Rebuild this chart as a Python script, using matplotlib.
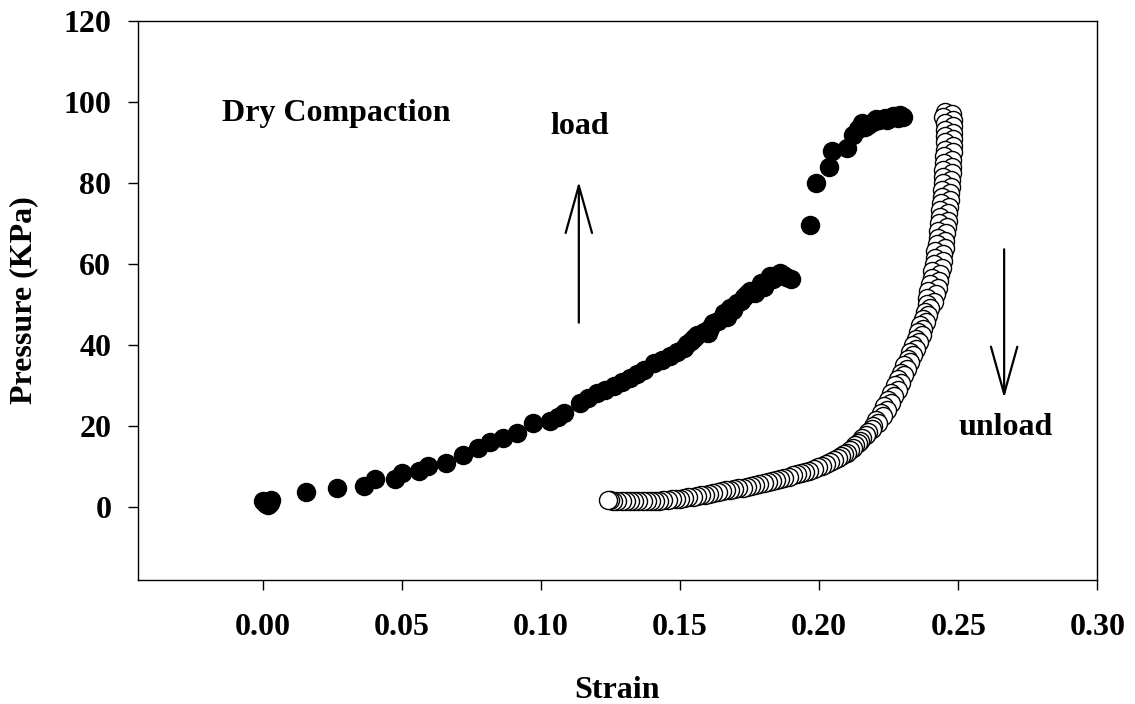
import numpy as np
import matplotlib
matplotlib.use('Agg')
import matplotlib.pyplot as plt

plt.rcParams['font.family'] = ['Liberation Serif', 'DejaVu Serif']
plt.rcParams['font.weight'] = 'bold'

# ── data ────────────────────────────────────────────────────────────────────
# loading branch (filled circles)
load_strain = [0.0000, 0.0010, 0.0020, 0.0025, 0.0030, 0.0155, 0.0266, 0.0364,
               0.0403, 0.0475, 0.0500, 0.0560, 0.0595, 0.0658, 0.0719, 0.0774,
               0.0817, 0.0865, 0.0913, 0.0973, 0.1033, 0.1060, 0.1081, 0.1141,
               0.1170, 0.1201, 0.1230, 0.1261, 0.1290, 0.1321, 0.1345, 0.1369,
               0.1405, 0.1435, 0.1465, 0.1490, 0.1513, 0.1540, 0.1561, 0.1585,
               0.1609, 0.1635, 0.1657, 0.1680, 0.1705, 0.1730, 0.1753, 0.1780,
               0.1801, 0.1825, 0.1845, 0.1861, 0.1880, 0.1897, 0.1966, 0.1987,
               0.2037, 0.2047, 0.2101, 0.2120, 0.2155, 0.2175, 0.2195, 0.2215,
               0.2235, 0.2255, 0.2275, 0.2290, 0.2300,
               0.1525, 0.1550, 0.1600, 0.1620, 0.1670, 0.1690, 0.1720, 0.1740,
               0.1770, 0.1790, 0.1812, 0.1835, 0.1870, 0.2140, 0.2165, 0.2205,
               0.2245, 0.2265, 0.2283]
load_pressure = [1.5, 0.8, 0.6, 1.0, 1.8, 3.7, 4.6, 5.3,
                 7.0, 7.0, 8.5, 8.8, 10.1, 10.9, 12.8, 14.5,
                 16.0, 17.1, 18.3, 20.8, 21.2, 22.3, 23.2, 25.7,
                 26.8, 28.2, 29.0, 29.8, 30.8, 31.9, 32.8, 33.9,
                 35.6, 36.3, 37.2, 38.2, 39.3, 41.0, 42.5, 43.3,
                 44.2, 46.0, 47.9, 49.2, 50.3, 51.8, 53.2, 53.8,
                 54.4, 56.9, 57.0, 57.7, 56.8, 56.3, 69.6, 80.0,
                 83.8, 87.9, 88.5, 91.8, 94.7, 94.2, 95.0, 95.4,
                 95.9, 96.1, 96.4, 96.7, 96.2,
                 40.2, 41.6, 43.0, 45.4, 47.0, 48.5, 50.8, 52.6,
                 52.9, 55.2, 55.8, 56.2, 57.2, 93.2, 93.8, 95.7,
                 95.6, 96.6, 96.0]

# unloading branch (open circles), listed from the top down
unload_strain = [0.2452, 0.2476, 0.2446, 0.2480, 0.2452, 0.2481, 0.2451, 0.2482,
                 0.2453, 0.2481, 0.2452, 0.2482, 0.2451, 0.2480, 0.2449, 0.2479,
                 0.2448, 0.2478, 0.2447, 0.2476, 0.2446, 0.2475, 0.2444, 0.2474,
                 0.2443, 0.2471, 0.2441, 0.2469, 0.2439, 0.2467, 0.2436, 0.2464,
                 0.2434, 0.2462, 0.2431, 0.2460, 0.2428, 0.2456, 0.2426, 0.2453,
                 0.2422, 0.2451, 0.2418, 0.2447, 0.2416, 0.2444, 0.2412, 0.2441,
                 0.2407, 0.2436, 0.2404, 0.2431, 0.2398, 0.2426, 0.2391, 0.2419,
                 0.2389, 0.2414,
                 0.2387, 0.2398, 0.2380, 0.2392, 0.2373, 0.2385, 0.2364, 0.2375,
                 0.2356, 0.2368, 0.2348, 0.2360, 0.2338, 0.2348, 0.2328, 0.2338,
                 0.2318, 0.2328, 0.2306, 0.2316, 0.2294, 0.2304, 0.2284, 0.2294,
                 0.2272, 0.2282, 0.2260, 0.2270, 0.2248, 0.2258, 0.2234, 0.2243,
                 0.2222, 0.2228, 0.2205, 0.2212, 0.2192, 0.2190, 0.2175, 0.2170,
                 0.2155, 0.2148, 0.2138, 0.2130, 0.2120, 0.2110, 0.2100,
                 0.2090, 0.2078, 0.2066, 0.2052, 0.2038, 0.2024, 0.2010, 0.1995,
                 0.1980, 0.1965, 0.1950, 0.1935, 0.1920, 0.1905, 0.1890, 0.1875,
                 0.1860, 0.1845, 0.1830, 0.1815, 0.1800, 0.1785, 0.1770, 0.1755,
                 0.1740, 0.1725, 0.1710, 0.1695, 0.1680, 0.1665, 0.1650, 0.1635,
                 0.1620, 0.1605, 0.1590, 0.1575, 0.1560, 0.1545, 0.1530, 0.1515,
                 0.1500, 0.1485, 0.1470, 0.1455, 0.1440, 0.1425, 0.1410, 0.1395,
                 0.1380, 0.1365, 0.1350, 0.1335, 0.1320, 0.1305, 0.1290, 0.1275,
                 0.1260, 0.1248, 0.1242]
unload_pressure = [97.5, 97.0, 96.2, 95.5, 94.7, 94.0, 93.0, 92.3,
                   91.5, 90.7, 90.0, 89.2, 88.2, 87.5, 86.5, 85.7,
                   85.0, 84.0, 83.2, 82.5, 81.5, 80.7, 80.0, 79.0,
                   78.2, 77.5, 76.5, 75.7, 75.0, 74.0, 73.2, 72.5,
                   71.5, 70.7, 70.0, 69.0, 68.2, 67.5, 66.5, 65.7,
                   65.0, 64.0, 63.2, 62.5, 61.5, 60.7, 60.0, 59.0,
                   58.2, 57.5, 56.5, 55.7, 55.0, 54.0, 53.2, 52.5,
                   51.5, 50.7,
                   50.0, 49.0, 48.2, 47.5, 46.5, 45.7, 45.0, 44.0,
                   43.2, 42.5, 41.5, 40.7, 40.0, 39.0, 38.2, 37.5,
                   36.5, 35.7, 35.0, 34.0, 33.2, 32.5, 31.5, 30.7,
                   30.0, 29.0, 28.2, 27.5, 26.5, 25.7, 25.0, 24.0,
                   23.2, 22.5, 21.5, 20.7, 20.0, 19.2, 18.5, 17.8,
                   17.0, 16.4, 15.8, 15.2, 14.6, 14.0, 13.4,
                   13.0, 12.5, 12.0, 11.5, 11.0, 10.6, 10.2, 9.8,
                   9.4, 9.0, 8.7, 8.4, 8.1, 7.8, 7.5, 7.2,
                   6.9, 6.7, 6.4, 6.2, 5.9, 5.7, 5.4, 5.2,
                   5.0, 4.8, 4.6, 4.4, 4.2, 4.1, 3.9, 3.7,
                   3.5, 3.3, 3.1, 2.9, 2.7, 2.5, 2.4, 2.2,
                   2.1, 2.0, 1.9, 1.8, 1.7, 1.6, 1.6, 1.5,
                   1.5, 1.4, 1.4, 1.4, 1.4, 1.4, 1.5, 1.5,
                   1.6, 1.7, 1.8]

xticks = [0.00, 0.05, 0.10, 0.15, 0.20, 0.25, 0.30]
yticks = [0, 20, 40, 60, 80, 100, 120]

# ── figure ──────────────────────────────────────────────────────────────────
fig = plt.figure(figsize=(11.35, 7.04), dpi=100)
ax = fig.add_axes([0.1213, 0.1761, 0.8455, 0.7945])

ax.plot(unload_strain, unload_pressure, 'o', ms=13, mfc='white', mec='black',
        mew=1.0, ls='none')
ax.plot(load_strain, load_pressure, 'o', ms=13, mfc='black', mec='black',
        ls='none')

ax.set_xlim(-0.045, 0.30)
ax.set_ylim(-18, 120)
ax.set_xticks(xticks)
ax.set_xticklabels([f'{t:.2f}' for t in xticks])
ax.set_yticks(yticks)
ax.tick_params(axis='x', direction='out', length=7, width=1, pad=17, labelsize=23)
ax.tick_params(axis='y', direction='out', length=7, width=1, pad=12, labelsize=23)
for lbl in ax.get_xticklabels() + ax.get_yticklabels():
    lbl.set_fontweight('bold')
for sp in ax.spines.values():
    sp.set_linewidth(1)

ax.set_xlabel('Strain', fontsize=23, fontweight='bold', labelpad=24)
ax.set_ylabel('Pressure (KPa)', fontsize=23, fontweight='bold', labelpad=18)

ax.text(-0.0148, 97.2, 'Dry Compaction', fontsize=23, fontweight='bold',
        ha='left', va='center')
ax.text(0.114, 94.0, 'load', fontsize=23, fontweight='bold',
        ha='center', va='center')
ax.text(0.267, 19.6, 'unload', fontsize=23, fontweight='bold',
        ha='center', va='center')

arrow = dict(arrowstyle='->,head_length=3.4,head_width=0.95', lw=1.6,
             color='black', mutation_scale=10, shrinkA=0, shrinkB=0)
ax.annotate('', xy=(0.1136, 80.3), xytext=(0.1136, 45.5), arrowprops=arrow)
ax.annotate('', xy=(0.2665, 26.9), xytext=(0.2665, 63.6), arrowprops=arrow)

plt.savefig('out.png', dpi=100)
